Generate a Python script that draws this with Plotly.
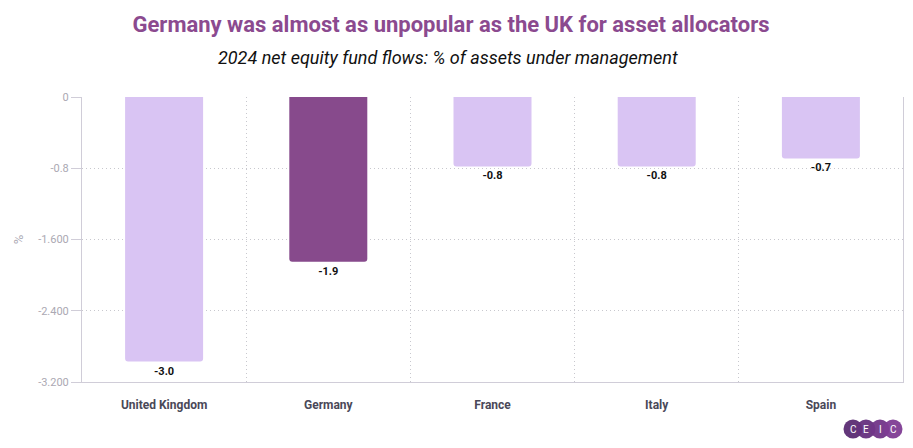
import plotly.graph_objects as go

countries = ["United Kingdom", "Germany", "France", "Italy", "Spain"]
flows = [-2.97, -1.85, -0.78, -0.78, -0.69]
labels = ["-3.0", "-1.9", "-0.8", "-0.8", "-0.7"]
highlight = "Germany"
tick_vals = [0, -0.8, -1.6, -2.4, -3.2]
tick_text = ["0", "-0.8", "-1.600", "-2.400", "-3.200"]

LIGHT = "#D9C4F3"
DARK = "#874A8C"
colors = [DARK if c == highlight else LIGHT for c in countries]

W, H = 913, 448
L, R, T, B = 82, 10, 97, 66
pw, ph = W - L - R, H - T - B

def px(x):
    return (x - L) / pw

def py(y):
    return (H - B - y) / ph

fig = go.Figure(go.Bar(
    x=countries, y=flows, marker=dict(color=colors, cornerradius=3, line=dict(width=0)),
    width=0.475, text=labels, textposition="outside", cliponaxis=False,
    textfont=dict(family="Roboto", size=11, color="#111111", weight="bold"),
    hoverinfo="skip",
))

fig.update_layout(
    width=W, height=H, margin=dict(l=L, r=R, t=T, b=B),
    paper_bgcolor="white", plot_bgcolor="white", showlegend=False,
    font=dict(family="Roboto"),
    title=dict(text="Germany was almost as unpopular as the UK for asset allocators",
               x=px(451), xanchor="center", xref="paper", y=1 - 24 / H, yanchor="middle",
               yref="container",
               font=dict(family="Roboto", size=22, color="#8B4A8F", weight="bold")),
)
fig.add_annotation(text="2024 net equity fund flows: % of assets under management",
                   x=px(448), y=py(57), xref="paper", yref="paper", showarrow=False,
                   xanchor="center", yanchor="middle",
                   font=dict(family="Roboto", size=18, color="#111111", style="italic"))

DOT = "1px,3px"
fig.update_yaxes(range=[-3.2, 0], tickvals=tick_vals, ticktext=tick_text,
                 showline=True, linecolor="#D0CDD8", linewidth=1, mirror=True,
                 ticks="outside", ticklen=10, tickcolor="#D0CDD8",
                 tickfont=dict(family="Roboto", size=11, color="#ABA9B3"),
                 showgrid=True, gridcolor="#C8C8CE", griddash=DOT, gridwidth=1,
                 zeroline=False,
                 title=dict(text="%", font=dict(family="Roboto", size=13, color="#ABA9B3"), standoff=11))
fig.update_xaxes(showline=True, linecolor="#D0CDD8", linewidth=1, ticks="",
                 tickson="boundaries", showgrid=True, gridcolor="#C8C8CE", griddash=DOT,
                 tickfont=dict(family="Roboto", size=12, color="#4A4858", weight="bold"),
                 ticklabelstandoff=12)

# CEIC logo
logo_cx = [853, 866, 880, 893]
logo_cols = ["#5B2C73", "#65307E", "#713588", "#7E3C93"]
logo_letters = ["C", "E", "I", "C"]
r = 9.5
cy = 429
for cx, col in zip(logo_cx, logo_cols):
    fig.add_shape(type="circle", xref="paper", yref="paper",
                  x0=px(cx - r), x1=px(cx + r), y0=py(cy + r), y1=py(cy - r),
                  fillcolor=col, line=dict(width=0), opacity=0.95)
for cx, let in zip(logo_cx, logo_letters):
    fig.add_annotation(text=let, x=px(cx), y=py(cy), xref="paper", yref="paper",
                       showarrow=False, xanchor="center", yanchor="middle",
                       font=dict(family="Roboto", size=10, color="white"))

fig.write_html("out.html")
